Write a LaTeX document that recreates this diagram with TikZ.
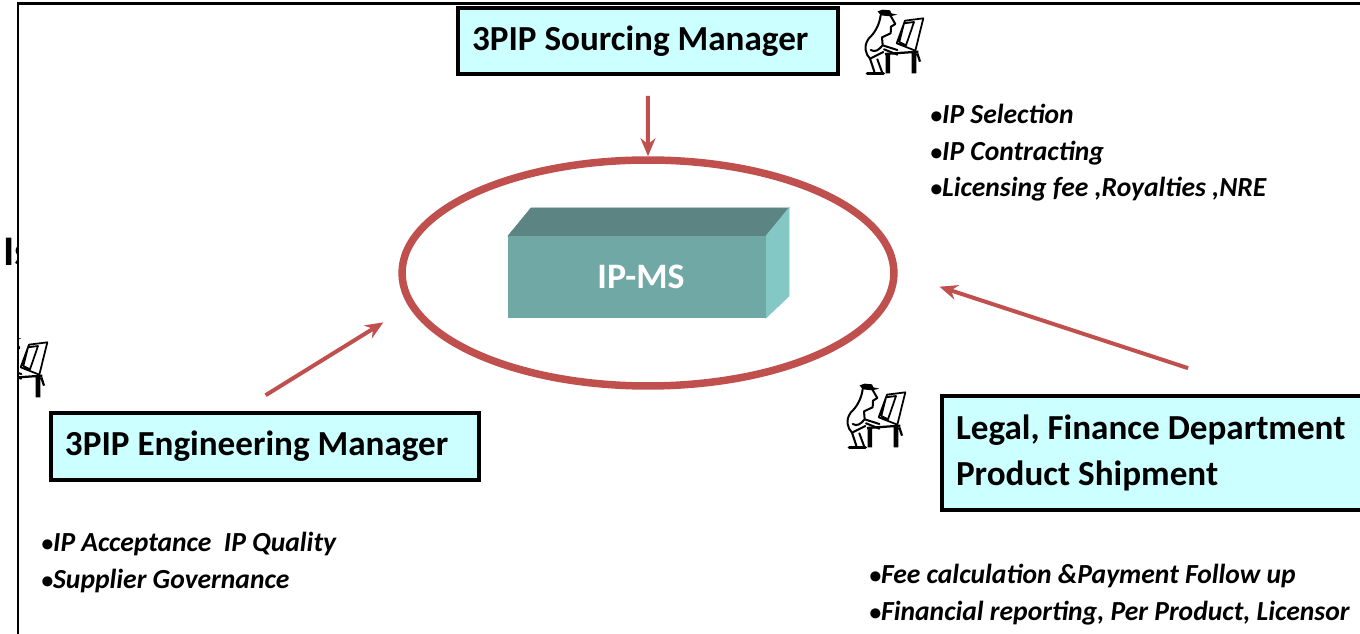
\documentclass[tikz,border=0pt]{standalone}
\usepackage{fontspec}
\setmainfont{Carlito}
\usetikzlibrary{shapes.geometric,arrows.meta}

\definecolor{boxfill}{HTML}{CCFFFF}
\definecolor{ringred}{HTML}{C0504D}
\definecolor{blockfront}{HTML}{70A8A6}
\definecolor{blocktop}{HTML}{5C8483}
\definecolor{blockside}{HTML}{84C8C6}

\newcommand{\dutymark}{{\fontsize{13.5}{13.5}\selectfont•}}

\tikzset{
    role/.style={draw=black, fill=boxfill, line width=0.08cm, anchor=north west, align=flush left, inner xsep=0.28cm,
        font=\fontsize{20}{26}\selectfont\bfseries},
    duties/.style={anchor=north west, align=left, inner sep=0pt, font=\fontsize{15.7}{20.7}\selectfont\bfseries\itshape},
    flow/.style={draw=ringred, line width=0.08cm, -{Stealth[length=0.36cm,width=0.3cm]}},
    clerk/.pic={
        \fill (113,34) -- (128,29) -- (150,31) -- (154,40) -- (172,44) -- (150,49) -- (122,46) -- cycle;
        \draw[line width=0.04cm, line join=round, line cap=round]
            (122,46) .. controls (118,75) and (105,98) .. (86,116) .. controls (70,138) and (76,162) .. (90,176)
            (152,48) -- (166,72) -- (153,80) -- (152,100) -- (126,112) -- (128,136) -- (172,150)
            (132,148) -- (172,164)
            (90,176) -- (130,156)
            (90,176) -- (103,215) (112,178) -- (126,216)
            (128,136) .. controls (116,150) and (106,158) .. (92,150);
        \draw[line width=0.07cm, line cap=round] (82,220) -- (130,220);
        \draw[line width=0.035cm, line join=round]
            (195,62) -- (250,55) -- (226,152) -- (170,130) -- cycle
            (192,70) -- (222,66) -- (198,136) -- (178,126) -- cycle;
        \draw[line width=0.045cm]
            (135,162) -- (235,155)
            (140,162) -- (140,220) (147,162) -- (147,220)
            (218,158) -- (218,220) (226,158) -- (226,220)
            (232,160) -- (240,185);
    }
}

\begin{document}
\begin{tikzpicture}[x=0.02cm, y=-0.02cm]

    \useasboundingbox (0,0) rectangle (1360,634);

    \begin{scope}
        \clip (0,220) rectangle (18,280);
        \node[anchor=west, inner sep=0pt, font=\fontsize{24}{28}\selectfont\bfseries] (cutword) at (3,252) {Is};
    \end{scope}

    \draw[line width=0.06cm] (18,634) -- (18,4) -- (1360,4);

    \filldraw[fill=blocktop, draw=blocktop] (508,236) -- (531,208) -- (789,208) -- (766,236) -- cycle;
    \filldraw[fill=blockside, draw=blockside] (766,236) -- (789,208) -- (789,296) -- (766,318) -- cycle;
    \node[fill=blockfront, minimum width=5.16cm, minimum height=1.64cm, inner sep=0pt, text=white,
        font=\fontsize{20.4}{24}\selectfont\bfseries] (platform) at (637,277) {\hspace*{0.16cm}IP-MS};

    \node[draw=ringred, line width=0.15cm, ellipse, minimum width=9.84cm, minimum height=4.52cm] (ring) at (648,273) {};

    \node[role, text width=7.04cm, minimum height=1.32cm] (sourcing) at (456,6) {3PIP Sourcing Manager};
    \node[role, text width=8cm, minimum height=1.34cm] (engineer) at (49,411) {3PIP Engineering Manager};
    \node[role, text width=8cm, minimum height=2.28cm] (legal) at (940,394) {Legal, Finance Department\\Product Shipment};

    \draw[flow, shorten <=0.4cm] (sourcing.south) -- (ring.north);
    \draw[flow, shorten <=0.6cm, shorten >=0.6cm] (engineer.125) -- (ring.188);
    \draw[flow, shorten <=1.66cm, shorten >=0.88cm] (legal.28) -- (ring.east);

    \pic[scale=1/3] at (840,0) {clerk};
    \pic[scale=1/3] at (822,374) {clerk};
    \begin{scope}
        \clip (18,330) rectangle (60,400);
        \pic[scale=1/3] at (-36,324) {clerk};
    \end{scope}

    \node[duties] (sourcingduties) at (930,104) {\dutymark IP Selection\\\dutymark IP Contracting\\\dutymark Licensing fee ,Royalties ,NRE};
    \node[duties] (engineerduties) at (41,532) {\dutymark IP Acceptance~~IP Quality\\\dutymark Supplier Governance};
    \node[duties] (legalduties) at (869,564) {\dutymark Fee calculation \&Payment Follow up\\\dutymark Financial reporting, Per Product, Licensor};

\end{tikzpicture}
\end{document}
